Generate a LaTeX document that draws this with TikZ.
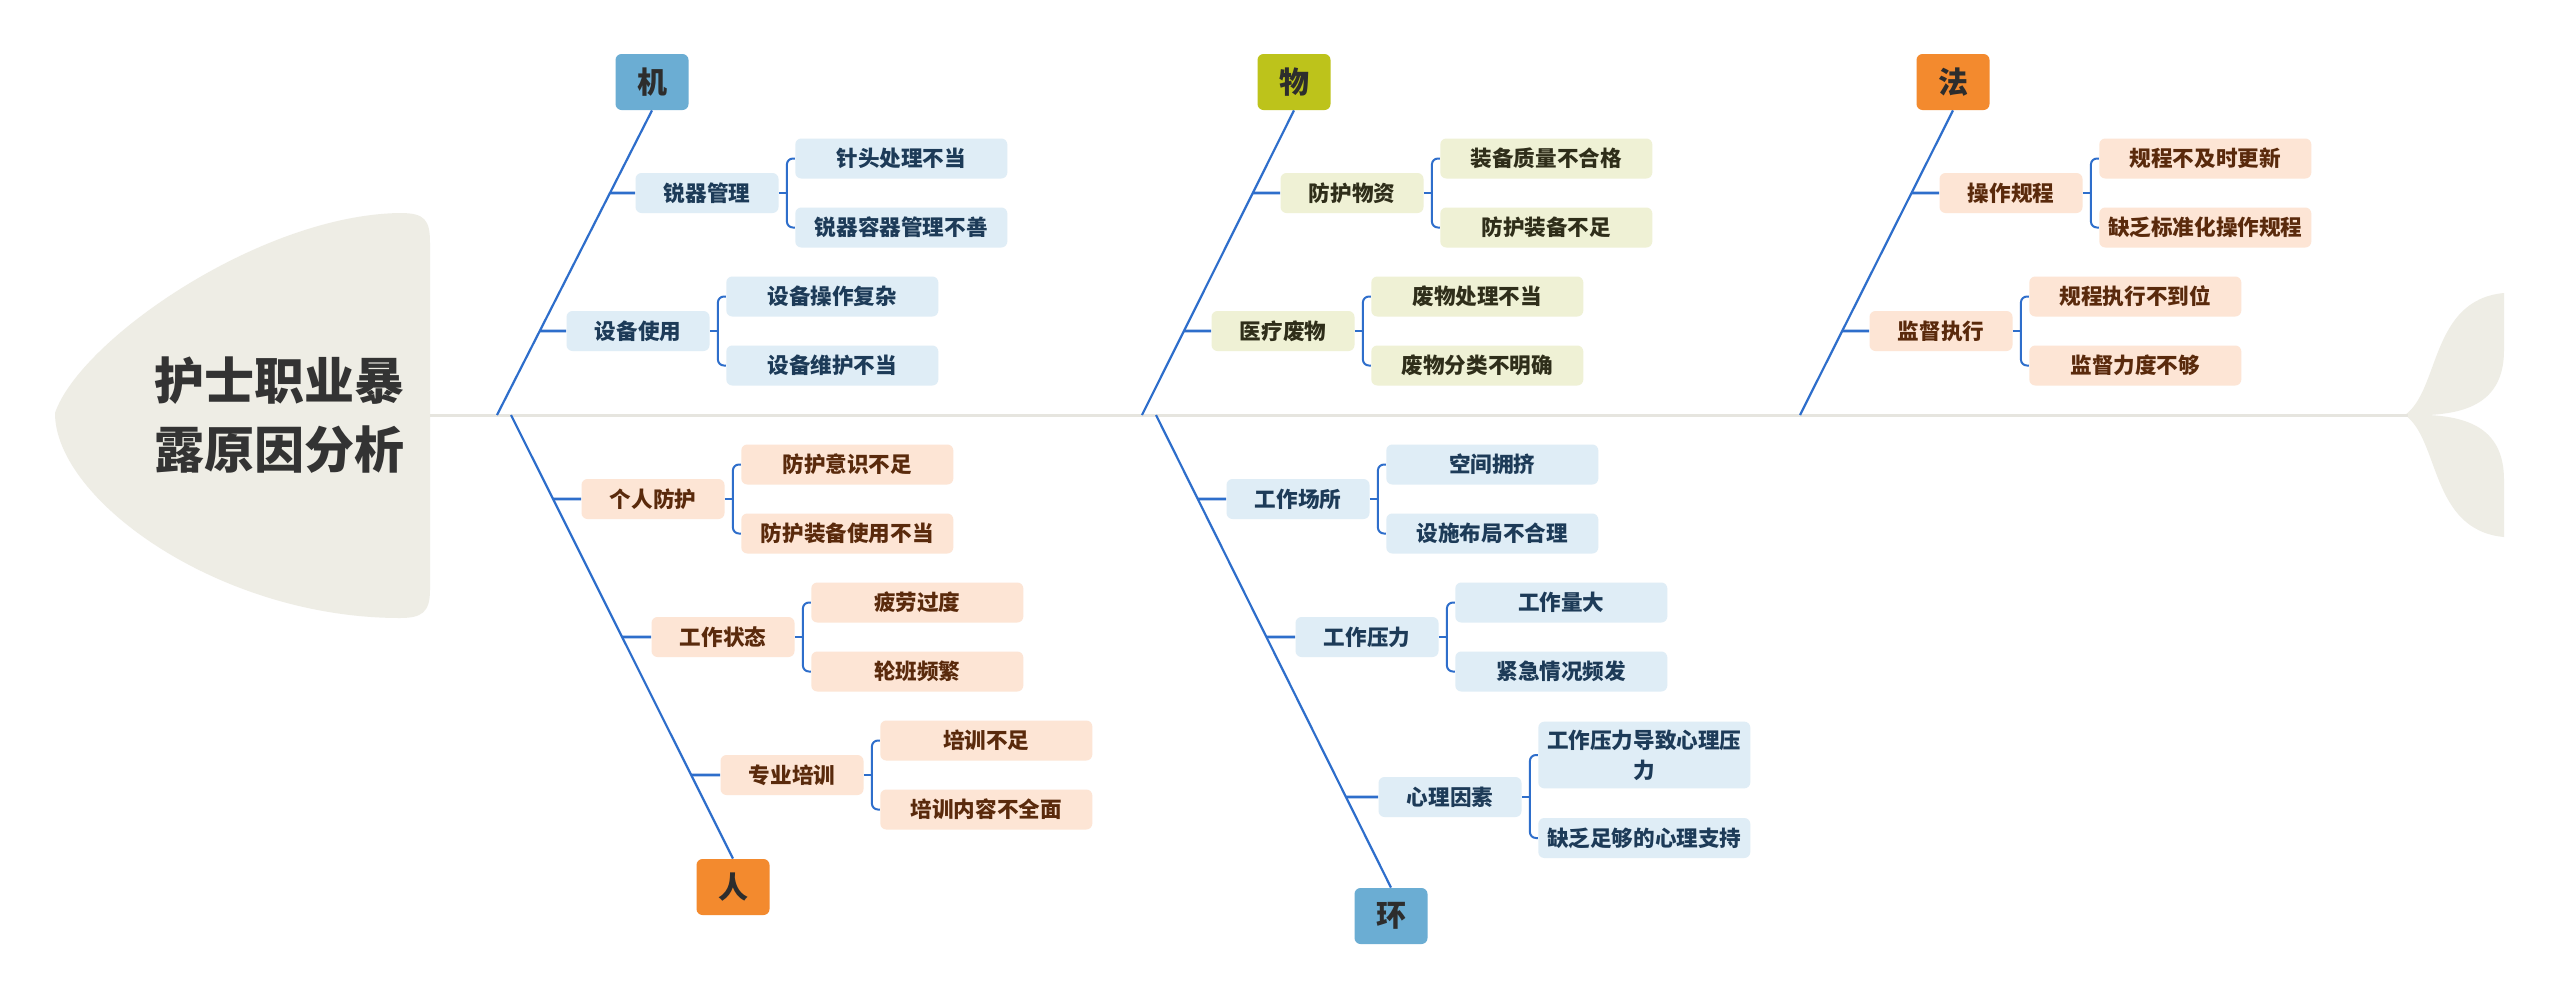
\documentclass[tikz,border=0pt]{standalone}
\usepackage{fontspec}
\newfontfamily\cjk{Noto Sans CJK SC}
\usetikzlibrary{calc}
\definecolor{lblue}{HTML}{DFEDF6}
\definecolor{tblue}{HTML}{1D3B58}
\definecolor{lolive}{HTML}{EFF1D5}
\definecolor{tolive}{HTML}{2F2E1A}
\definecolor{lpeach}{HTML}{FDE5D5}
\definecolor{tpeach}{HTML}{5A2A0C}
\definecolor{cblue}{HTML}{6BADD3}
\definecolor{colive}{HTML}{BDC31B}
\definecolor{corange}{HTML}{F38A2E}
\definecolor{boneBlue}{HTML}{2E6ECB}
\definecolor{fishBody}{HTML}{EEEDE5}
\definecolor{spineGray}{HTML}{E6E5DF}
\definecolor{titleText}{HTML}{333333}
\definecolor{catText}{HTML}{2D2D2D}
\begin{document}
\begin{tikzpicture}[x=0.5pt,y=-0.5pt,
  cat/.style={rounded corners=3pt, minimum width=36.5pt, minimum height=28pt, inner sep=0pt,
    font=\cjk\bfseries\fontsize{15}{18}\selectfont, text=catText},
  sub/.style={rounded corners=3pt, minimum width=71.5pt, minimum height=20pt, inner xsep=2pt, inner ysep=4pt,
    font=\cjk\bfseries\fontsize{10.8}{15}\selectfont, align=center},
  leaf/.style={sub, minimum width=106pt},
  blueS/.style={fill=lblue, text=tblue},
  oliveS/.style={fill=lolive, text=tolive},
  peachS/.style={fill=lpeach, text=tpeach},
  bone/.style={draw=boneBlue, line width=1.1pt},
  stub/.style={draw=boneBlue, line width=1.4pt},
  brk/.style={draw=boneBlue, line width=1pt, rounded corners=3pt},
]
\fill[white] (0,0) rectangle (2560,997);
\useasboundingbox (0,0) rectangle (2560,997);

% fish head
\fill[fishBody] (400,213) .. controls (425,213) and (430,220) .. (430,243)
  -- (430,590) .. controls (430,612) and (422,618) .. (400,618)
  .. controls (220,618) and (55,500) .. (55,413)
  .. controls (80,340) and (260,215) .. (400,213) -- cycle;
% fish tail
\fill[fishBody] (2405,415) .. controls (2440,390) and (2430,300) .. (2504,293)
  -- (2504,350) .. controls (2504,400) and (2470,413) .. (2428,415) -- cycle;
\fill[fishBody] (2405,415) .. controls (2440,440) and (2430,530) .. (2504,537)
  -- (2504,480) .. controls (2504,430) and (2470,417) .. (2428,415) -- cycle;
% spine
\coordinate (sp0) at (430,415);
\coordinate (sp1) at (2408,415);
\draw[spineGray, line width=1.5pt] (sp0) -- (sp1);

\node[font=\cjk\bfseries\fontsize{25}{34.5}\selectfont, text=titleText, align=center] (title) at (279,415) {护士职业暴\\露原因分析};

% bone base points
\coordinate (b1) at (497,415);
\coordinate (b2) at (1142,415);
\coordinate (b3) at (1800,415);
\coordinate (b4) at (511,415);
\coordinate (b5) at (1156,415);

% categories
\node[cat, fill=cblue] (ji) at (652,82) {机};
\node[cat, fill=colive] (wu) at (1294,82) {物};
\node[cat, fill=corange] (fa) at (1953,82) {法};
\node[cat, fill=corange] (ren) at (733,887) {人};
\node[cat, fill=cblue] (huan) at (1391,916) {环};

\draw[bone] (ji.south) -- (b1);
\draw[bone] (wu.south) -- (b2);
\draw[bone] (fa.south) -- (b3);
\draw[bone] (ren.north) -- (b4);
\draw[bone] (huan.north) -- (b5);

% ---- 机 ----
\node[sub,blueS] (s11) at (707,193) {锐器管理};
\node[leaf,blueS,anchor=west] (l111) at ($(s11.east)+(16,-34.5)$) {针头处理不当};
\node[leaf,blueS,anchor=west] (l112) at ($(s11.east)+(16,34.5)$) {锐器容器管理不善};
\node[sub,blueS] (s12) at (638,331) {设备使用};
\node[leaf,blueS,anchor=west] (l121) at ($(s12.east)+(16,-34.5)$) {设备操作复杂};
\node[leaf,blueS,anchor=west] (l122) at ($(s12.east)+(16,34.5)$) {设备维护不当};

% ---- 物 ----
\node[sub,oliveS] (s21) at (1352,193) {防护物资};
\node[leaf,oliveS,anchor=west] (l211) at ($(s21.east)+(16,-34.5)$) {装备质量不合格};
\node[leaf,oliveS,anchor=west] (l212) at ($(s21.east)+(16,34.5)$) {防护装备不足};
\node[sub,oliveS] (s22) at (1283,331) {医疗废物};
\node[leaf,oliveS,anchor=west] (l221) at ($(s22.east)+(16,-34.5)$) {废物处理不当};
\node[leaf,oliveS,anchor=west] (l222) at ($(s22.east)+(16,34.5)$) {废物分类不明确};

% ---- 法 ----
\node[sub,peachS] (s31) at (2011,193) {操作规程};
\node[leaf,peachS,anchor=west] (l311) at ($(s31.east)+(16,-34.5)$) {规程不及时更新};
\node[leaf,peachS,anchor=west] (l312) at ($(s31.east)+(16,34.5)$) {缺乏标准化操作规程};
\node[sub,peachS] (s32) at (1941,331) {监督执行};
\node[leaf,peachS,anchor=west] (l321) at ($(s32.east)+(16,-34.5)$) {规程执行不到位};
\node[leaf,peachS,anchor=west] (l322) at ($(s32.east)+(16,34.5)$) {监督力度不够};

% ---- 人 ----
\node[sub,peachS] (s41) at (653,499) {个人防护};
\node[leaf,peachS,anchor=west] (l411) at ($(s41.east)+(16,-34.5)$) {防护意识不足};
\node[leaf,peachS,anchor=west] (l412) at ($(s41.east)+(16,34.5)$) {防护装备使用不当};
\node[sub,peachS] (s42) at (723,637) {工作状态};
\node[leaf,peachS,anchor=west] (l421) at ($(s42.east)+(16,-34.5)$) {疲劳过度};
\node[leaf,peachS,anchor=west] (l422) at ($(s42.east)+(16,34.5)$) {轮班频繁};
\node[sub,peachS] (s43) at (792,775) {专业培训};
\node[leaf,peachS,anchor=west] (l431) at ($(s43.east)+(16,-34.5)$) {培训不足};
\node[leaf,peachS,anchor=west] (l432) at ($(s43.east)+(16,34.5)$) {培训内容不全面};

% ---- 环 ----
\node[sub,blueS] (s51) at (1298,499) {工作场所};
\node[leaf,blueS,anchor=west] (l511) at ($(s51.east)+(16,-34.5)$) {空间拥挤};
\node[leaf,blueS,anchor=west] (l512) at ($(s51.east)+(16,34.5)$) {设施布局不合理};
\node[sub,blueS] (s52) at (1367,637) {工作压力};
\node[leaf,blueS,anchor=west] (l521) at ($(s52.east)+(16,-34.5)$) {工作量大};
\node[leaf,blueS,anchor=west] (l522) at ($(s52.east)+(16,34.5)$) {紧急情况频发};
\node[sub,blueS] (s53) at (1450,797) {心理因素};
\node[leaf,blueS,anchor=west] (l531) at ($(s53.east)+(16,-42)$) {工作压力导致心理压\\力};
\node[leaf,blueS,anchor=west] (l532) at ($(s53.east)+(16,41)$) {缺乏足够的心理支持};

% stubs from bones to sub-topics, and brackets to leaves
\foreach \s/\c/\b in {s11/ji.south/b1, s12/ji.south/b1, s21/wu.south/b2, s22/wu.south/b2,
                      s31/fa.south/b3, s32/fa.south/b3,
                      s41/ren.north/b4, s42/ren.north/b4, s43/ren.north/b4,
                      s51/huan.north/b5, s52/huan.north/b5, s53/huan.north/b5}{
  \coordinate (j\s) at (intersection cs: first line={(\c)--(\b)}, second line={(\s.west)--(\s.east)});
  \draw[stub] (j\s) -- (\s.west);
  \draw[brk] (\s.east) -- ++(8,0);
}
\foreach \a/\z in {l111/l112, l121/l122, l211/l212, l221/l222, l311/l312, l321/l322,
                   l411/l412, l421/l422, l431/l432, l511/l512, l521/l522, l531/l532}{
  \draw[brk] (\a.west) -- ++(-8,0) |- (\z.west);
}
\end{tikzpicture}
\end{document}
